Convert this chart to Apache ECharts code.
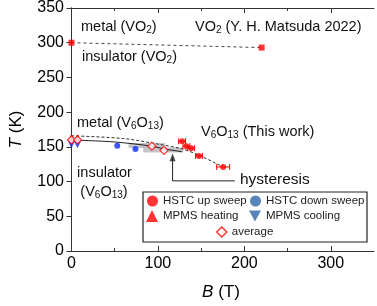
<!DOCTYPE html>
<html><head><meta charset="utf-8">
<script src="https://cdn.jsdelivr.net/npm/echarts@6/dist/echarts.min.js"></script>
<style>html,body{margin:0;padding:0;background:#fff}#c{width:377px;height:306px}</style>
</head><body><div id="c"></div>
<script>
// ---- data ----
const vo2B = [0, 220], vo2T = [300, 293];
const upB = [128, 133, 138.5, 147.5, 175.5], upT = [158, 151, 148, 137, 121], upErr = [4, 4, 4, 4, 7.5];
const downB = [53, 74], downT = [151.5, 147];
const heatB = [0, 7], heatT = [164, 163];
const coolB = [0, 7], coolT = [153, 153];
const avgB = [0, 7, 93, 107], avgT = [160, 160, 151, 145];
const solidB = [0, 50, 93, 107, 128], solidT = [160, 157, 151, 147, 143];
const dashB = [0, 60, 100, 128, 147.5, 175.5], dashT = [166, 162, 154, 147, 138, 121];
const hystStart = [66, 83], hystEnd = [108, 129], hystT = [152, 145.5];
const arrowB = [189, 117, 117], arrowT = [101, 101, 135];
const xTicks = [0, 100, 200, 300], xMinor = [50, 150, 250];

const F = '"Liberation Sans", Arial, Helvetica, sans-serif';
const RED = '#ff0000', BLUE = '#0a2cff', LBLUE = '#2d67a8', AX = '#333';
const pts = (b, t) => b.map((v, i) => [v, t[i]]);

const chart = echarts.init(document.getElementById('c'), null, {renderer: 'canvas'});
const xBase = {type: 'value', min: -4, max: 350, splitLine: {show: false}};
const yBase = {type: 'value', min: 0, max: 350, interval: 50, splitLine: {show: false}};
const line = {lineStyle: {color: AX, width: 1}};

function txt(x, y, text, align, size) {
  const fs = size || 14.5;
  return {type: 'text', x: x, y: y, z: 10, style: {
    text: text, align: align || 'left', verticalAlign: 'middle', fill: '#111',
    fontFamily: F, fontSize: fs,
    rich: {
      m: {fontSize: fs, fontFamily: F, fill: '#111'},
      s: {fontSize: 10, fontFamily: F, fill: '#111', padding: [7, 0, 0, 0]}
    }
  }};
}
function leg(name, left, top, icon, color, size) {
  return {
    show: true, left: left, top: top, padding: 0, itemGap: 0, selectedMode: false,
    itemWidth: size, itemHeight: size, z: 6,
    textStyle: {fontSize: 11.5, color: '#222', fontFamily: F},
    data: [{name: name, icon: icon, itemStyle: color}]
  };
}

chart.setOption({
  animation: false,
  backgroundColor: '#fff',
  grid: {left: 67, right: 3, top: 7, bottom: 55},
  xAxis: [
    Object.assign({}, xBase, {position: 'bottom', axisLine: Object.assign({show: true}, line),
      axisTick: {show: true, inside: true, length: 5, customValues: xTicks, lineStyle: {color: AX}},
      axisLabel: {customValues: xTicks, fontSize: 16, color: '#000', margin: 5, fontFamily: F},
      name: '{i|B} (T)', nameLocation: 'middle', nameGap: 33,
      nameTextStyle: {fontSize: 17, color: '#000', fontFamily: F, rich: {i: {fontSize: 17, fontStyle: 'italic', fontFamily: F, color: '#000'}}}}),
    Object.assign({}, xBase, {position: 'bottom', axisLine: {show: false},
      axisTick: {show: true, inside: true, length: 3, customValues: xMinor, lineStyle: {color: AX}}, axisLabel: {show: false}}),
    Object.assign({}, xBase, {position: 'top', axisLine: Object.assign({show: true}, line),
      axisTick: {show: true, inside: true, length: 5, customValues: xTicks, lineStyle: {color: AX}}, axisLabel: {show: false}}),
    Object.assign({}, xBase, {position: 'top', axisLine: {show: false},
      axisTick: {show: true, inside: true, length: 3, customValues: xMinor, lineStyle: {color: AX}}, axisLabel: {show: false}})
  ],
  yAxis: [
    Object.assign({}, yBase, {position: 'left', axisLine: Object.assign({show: true}, line),
      axisTick: {show: true, inside: false, length: 3, lineStyle: {color: AX}},
      axisLabel: {fontSize: 16, color: '#000', margin: 4, fontFamily: F},
      name: '{i|T} (K)', nameLocation: 'middle', nameGap: 43, nameRotate: 90,
      nameTextStyle: {fontSize: 17, color: '#000', fontFamily: F, rich: {i: {fontSize: 17, fontStyle: 'italic', fontFamily: F, color: '#000'}}}}),
    Object.assign({}, yBase, {position: 'right', axisLine: Object.assign({show: true}, line),
      axisTick: {show: true, inside: true, length: 5, lineStyle: {color: AX}}, axisLabel: {show: false}})
  ],
  legend: [
    leg('HSTC up sweep', 147, 195, 'circle', {color: RED}, 11),
    leg('HSTC down sweep', 250, 195, 'circle', {color: LBLUE}, 11),
    leg('MPMS heating', 146, 210, 'triangle', {color: RED}, 12),
    leg('MPMS cooling', 249, 210, 'path://M0,0L10,0L5,9Z', {color: LBLUE}, 12),
    leg('average', 216, 226, 'diamond', {color: '#fff', borderColor: RED, borderWidth: 1.5}, 10)
  ],
  graphic: [
    {type: 'rect', z: 3, shape: {x: 143, y: 192, width: 224, height: 50},
      style: {fill: '#fff', stroke: '#222', lineWidth: 1.2}},
    txt(81, 27, '{m|metal (VO}{s|2}{m|)}'),
    txt(82, 57, '{m|insulator (VO}{s|2}{m|)}'),
    txt(195, 27, '{m|VO}{s|2}{m| (Y. H. Matsuda 2022)}'),
    txt(77, 123, '{m|metal (V}{s|6}{m|O}{s|13}{m|)}'),
    txt(201, 132, '{m|V}{s|6}{m|O}{s|13}{m| (This work)}'),
    txt(104.5, 173, '{m|insulator}', 'center'),
    txt(104, 192, '{m|(V}{s|6}{m|O}{s|13}{m|)}', 'center'),
    txt(240, 180, '{m|hysteresis}', 'left', 15.5)
  ],
  series: [
    {type: 'custom', name: 'hyst', silent: true, z: 1,
      data: hystStart.map((s, i) => [s, hystEnd[i], hystT[i]]),
      renderItem: (p, api) => {
        const a = api.coord([api.value(0), api.value(2)]), b = api.coord([api.value(1), api.value(2)]);
        return {type: 'rect', shape: {x: a[0], y: a[1] - 2.5, width: b[0] - a[0], height: 5},
          style: {fill: 'rgba(150,150,150,0.55)'}};
      }},
    {type: 'line', name: 'vo2line', data: pts(vo2B, vo2T), symbol: 'none', silent: true, z: 2,
      lineStyle: {type: [3, 3], color: '#444', width: 1}},
    {type: 'line', name: 'dashfit', data: pts(dashB, dashT), symbol: 'none', smooth: 0.3, silent: true, z: 2,
      lineStyle: {type: [3, 2], color: '#333', width: 1}},
    {type: 'line', name: 'solidfit', data: pts(solidB, solidT), symbol: 'none', smooth: 0.3, silent: true, z: 2,
      lineStyle: {color: '#222', width: 1}},
    {type: 'line', name: 'arrow', data: pts(arrowB, arrowT), symbol: 'none', silent: true, z: 2,
      lineStyle: {color: '#222', width: 1}},
    {type: 'scatter', name: 'arrowhead', data: [[arrowB[2], arrowT[2]]], symbol: 'triangle', symbolSize: [6, 8],
      itemStyle: {color: '#222'}, silent: true, z: 3},
    {type: 'scatter', name: 'vo2', data: pts(vo2B, vo2T), symbol: 'rect', symbolSize: 6, itemStyle: {color: RED}, z: 4},
    {type: 'custom', name: 'err', silent: true, z: 3,
      data: upB.map((b, i) => [b, upT[i], upErr[i]]),
      renderItem: (p, api) => {
        const y = api.value(1);
        const l = api.coord([api.value(0) - api.value(2), y]), r = api.coord([api.value(0) + api.value(2), y]);
        const st = {stroke: RED, lineWidth: 1};
        return {type: 'group', children: [
          {type: 'line', shape: {x1: l[0], y1: l[1], x2: r[0], y2: r[1]}, style: st},
          {type: 'line', shape: {x1: l[0], y1: l[1] - 3, x2: l[0], y2: l[1] + 3}, style: st},
          {type: 'line', shape: {x1: r[0], y1: r[1] - 3, x2: r[0], y2: r[1] + 3}, style: st}
        ]};
      }},
    {type: 'scatter', name: 'HSTC up sweep', data: pts(upB, upT), symbol: 'circle', symbolSize: 6, itemStyle: {color: RED}, z: 4},
    {type: 'scatter', name: 'HSTC down sweep', data: pts(downB, downT), symbol: 'circle', symbolSize: 6, itemStyle: {color: BLUE}, z: 4},
    {type: 'scatter', name: 'MPMS heating', data: pts(heatB, heatT), symbol: 'triangle', symbolSize: 7, itemStyle: {color: RED}, z: 4},
    {type: 'scatter', name: 'MPMS cooling', data: pts(coolB, coolT), symbol: 'triangle', symbolRotate: 180, symbolSize: 7, itemStyle: {color: BLUE}, z: 4},
    {type: 'scatter', name: 'average', data: pts(avgB, avgT), symbol: 'diamond', symbolSize: 8,
      itemStyle: {color: '#fff', borderColor: RED, borderWidth: 1.2}, z: 5}
  ]
});
</script></body></html>
